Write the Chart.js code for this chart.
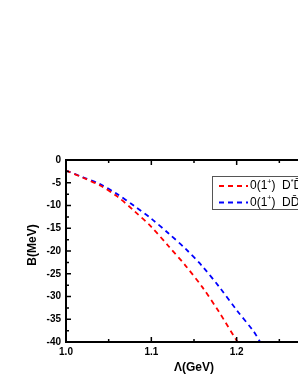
<!DOCTYPE html>
<html><head><meta charset="utf-8">
<script src="https://cdn.jsdelivr.net/npm/chart.js@4.4.1/dist/chart.umd.min.js"></script>
<style>html,body{margin:0;padding:0;background:#fff;overflow:hidden;width:298px;height:385px}
#wrap{width:340px;height:385px;position:relative}</style>
</head><body><div id="wrap"><canvas id="c" width="340" height="385"></canvas></div>
<script>
const lambdaRed = [1.00, 1.02, 1.04, 1.06, 1.08, 1.10, 1.12, 1.14, 1.16, 1.18, 1.20, 1.2015];
const bRed      = [-2.3, -3.9, -5.6, -8.0, -11.2, -14.7, -18.9, -23.2, -28.0, -33.6, -39.7, -40];
const lambdaBlue = [1.00, 1.02, 1.04, 1.06, 1.08, 1.10, 1.12, 1.14, 1.16, 1.18, 1.20, 1.22, 1.2275];
const bBlue      = [-2.3, -3.8, -5.3, -7.5, -10.1, -12.9, -16.1, -19.5, -23.4, -28.0, -33.0, -37.7, -40];
const xTicks = [1.0, 1.1, 1.2, 1.3];
const xMinor = [1.05, 1.15, 1.25];
const yTicks = [0, -5, -10, -15, -20, -25, -30, -35, -40];
const yMinor = [-2.5, -7.5, -12.5, -17.5, -22.5, -27.5, -32.5, -37.5];
const labels = ['0(1\u207A) D*D\u0304*', '0(1\u207A) DD\u0304*'];

const axesPlugin = {
  id: 'axes',
  afterDraw(chart) {
    const ctx = chart.ctx, a = chart.chartArea;
    const xs = chart.scales.x, ys = chart.scales.y;
    ctx.save();
    ctx.strokeStyle = '#000'; ctx.fillStyle = '#000';
    ctx.lineWidth = 2;
    ctx.beginPath();
    ctx.moveTo(a.left, a.top); ctx.lineTo(a.right, a.top);
    ctx.moveTo(a.left, a.top - 1); ctx.lineTo(a.left, a.bottom + 1);
    ctx.moveTo(a.left, a.bottom); ctx.lineTo(a.right, a.bottom);
    ctx.moveTo(a.right, a.top); ctx.lineTo(a.right, a.bottom);
    ctx.stroke();
    ctx.lineWidth = 1.5;
    ctx.beginPath();
    yTicks.forEach(v => { const y = ys.getPixelForValue(v); ctx.moveTo(a.left, y); ctx.lineTo(a.left + 5, y); });
    yMinor.forEach(v => { const y = ys.getPixelForValue(v); ctx.moveTo(a.left, y); ctx.lineTo(a.left + 3, y); });
    xTicks.forEach(v => { const x = xs.getPixelForValue(v); ctx.moveTo(x, a.bottom); ctx.lineTo(x, a.bottom - 5); ctx.moveTo(x, a.top); ctx.lineTo(x, a.top + 5); });
    xMinor.forEach(v => { const x = xs.getPixelForValue(v); ctx.moveTo(x, a.bottom); ctx.lineTo(x, a.bottom - 3); ctx.moveTo(x, a.top); ctx.lineTo(x, a.top + 3); });
    ctx.stroke();
    ctx.font = 'bold 10px "Liberation Sans", Arial, sans-serif';
    ctx.textAlign = 'right'; ctx.textBaseline = 'middle';
    yTicks.forEach(v => ctx.fillText(String(v), a.left - 5, ys.getPixelForValue(v)));
    ctx.textAlign = 'center'; ctx.textBaseline = 'top';
    xTicks.forEach(v => ctx.fillText(v.toFixed(1), xs.getPixelForValue(v), a.bottom + 5));
    ctx.font = 'bold 12px "Liberation Sans", Arial, sans-serif';
    ctx.textBaseline = 'middle';
    ctx.fillText('\u039B(GeV)', (a.left + a.right) / 2, 368);
    ctx.save();
    ctx.translate(33, 245); ctx.rotate(-Math.PI / 2);
    ctx.fillText('B(MeV)', 0, 0);
    ctx.restore();
    ctx.lineWidth = 1; ctx.strokeStyle = '#555';
    ctx.strokeRect(212.5, 176.5, 130, 33);
    const colors = ['#ff0000', '#0000ff'];
    const rows = [186, 202.5];
    rows.forEach((ry, i) => {
      ctx.strokeStyle = colors[i]; ctx.lineWidth = 1.8; ctx.setLineDash([5, 4]);
      ctx.beginPath(); ctx.moveTo(219, ry); ctx.lineTo(248, ry); ctx.stroke();
      ctx.setLineDash([]);
      ctx.fillStyle = '#000'; ctx.textAlign = 'left'; ctx.textBaseline = 'middle';
      const parts = i === 0
        ? [['0(1', 0], ['+', 1], [')  D', 0], ['*', 1], ['D\u0304', 0], ['*', 1]]
        : [['0(1', 0], ['+', 1], [')  DD\u0304', 0], ['*', 1]];
      let x = 250;
      parts.forEach(([t, sup]) => {
        ctx.font = sup ? '7px "Liberation Sans", Arial, sans-serif' : '12px "Liberation Sans", Arial, sans-serif';
        ctx.fillText(t, x, sup ? ry - 4 : ry);
        x += ctx.measureText(t).width;
      });
    });
    ctx.restore();
  }
};

new Chart(document.getElementById('c'), {
  type: 'scatter',
  data: {
    datasets: [
      { label: labels[0], data: lambdaRed.map((x, i) => ({ x, y: bRed[i] })), showLine: true,
        borderColor: '#ff0000', borderWidth: 1.8, borderDash: [5, 4], pointRadius: 0, tension: 0.3, fill: false },
      { label: labels[1], data: lambdaBlue.map((x, i) => ({ x, y: bBlue[i] })), showLine: true,
        borderColor: '#0000ff', borderWidth: 1.8, borderDash: [5, 4], pointRadius: 0, tension: 0.3, fill: false }
    ]
  },
  options: {
    responsive: false, animation: false, clip: true,
    layout: { padding: { left: 66, top: 160, right: 18, bottom: 43 } },
    plugins: { legend: { display: false }, tooltip: { enabled: false } },
    scales: {
      x: { type: 'linear', min: 1.0, max: 1.3, display: false },
      y: { type: 'linear', min: -40, max: 0, display: false }
    }
  },
  plugins: [axesPlugin]
});
</script></body></html>
